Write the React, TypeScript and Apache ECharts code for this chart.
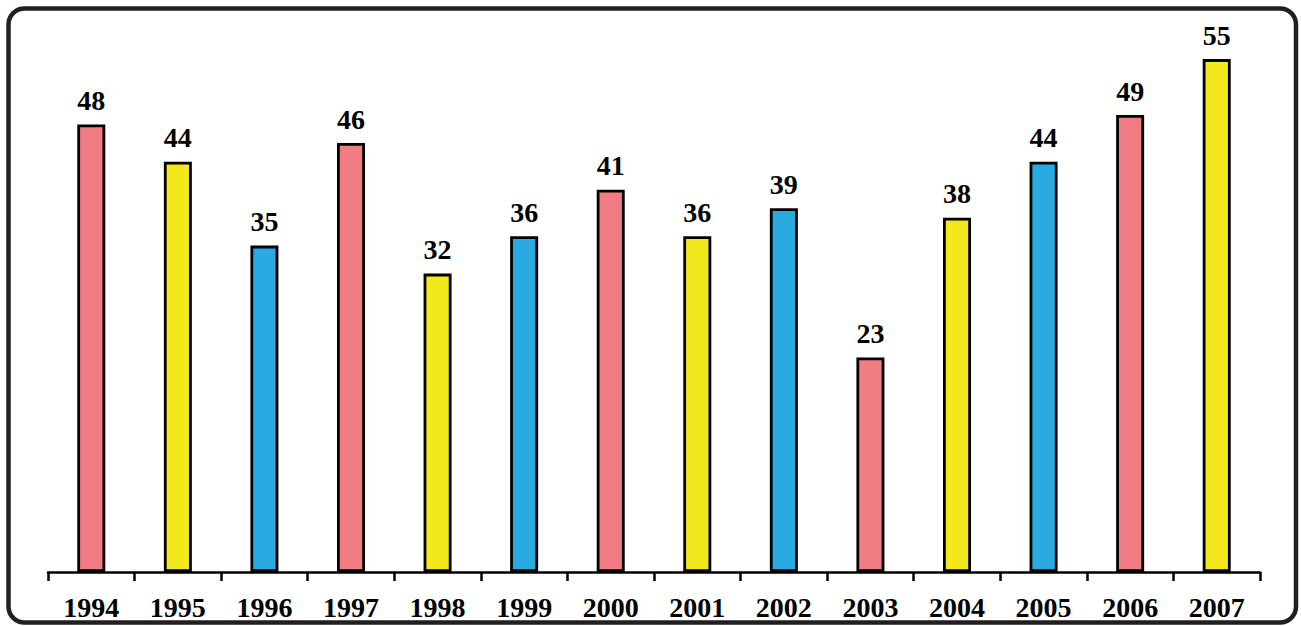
import React, { useEffect, useRef } from "react";
import * as echarts from "echarts";

const years = ["1994", "1995", "1996", "1997", "1998", "1999", "2000", "2001", "2002", "2003", "2004", "2005", "2006", "2007"];
const values = [48, 44, 35, 46, 32, 36, 41, 36, 39, 23, 38, 44, 49, 55];
const palette = ["#F27C83", "#F2E81B", "#29ABE2"];

export default function App() {
  const ref = useRef<HTMLDivElement>(null);
  useEffect(() => {
    if (!ref.current) return;
    const chart = echarts.init(ref.current, undefined, { renderer: "svg" });
    const font = "'Liberation Serif', 'Times New Roman', serif";
    chart.setOption({
      animation: false,
      backgroundColor: "#ffffff",
      grid: { left: 48, right: 41, top: 12.5, bottom: 54 },
      xAxis: {
        type: "category",
        data: years,
        boundaryGap: true,
        axisLine: { show: true, lineStyle: { color: "#000", width: 2.5 } },
        axisTick: { show: true, length: 9, lineStyle: { color: "#000", width: 2.5 } },
        axisLabel: {
          color: "#000",
          fontFamily: font,
          fontWeight: "bold",
          fontSize: 28,
          margin: 21,
        },
      },
      yAxis: {
        type: "value",
        min: 0,
        max: 60,
        show: false,
        splitLine: { show: false },
      },
      graphic: [
        {
          type: "rect",
          shape: { x: 8.5, y: 8.5, width: 1287.5, height: 614, r: 16 },
          style: { fill: "none", stroke: "#231F20", lineWidth: 4.5 },
          z: 100,
        },
      ],
      series: [
        {
          type: "bar",
          barWidth: 28,
          data: values.map((v, i) => ({
            value: v,
            itemStyle: { color: palette[i % 3] },
          })),
          itemStyle: { borderColor: "#000", borderWidth: 2.8 },
          label: {
            show: true,
            position: "top",
            distance: 10,
            color: "#000",
            fontFamily: font,
            fontWeight: "bold",
            fontSize: 28,
          },
        },
      ],
    });
    return () => chart.dispose();
  }, []);
  return (
    <div
      ref={ref}
      style={{ position: "absolute", left: 0, top: 0, width: 1301, height: 626 }}
    />
  );
}
